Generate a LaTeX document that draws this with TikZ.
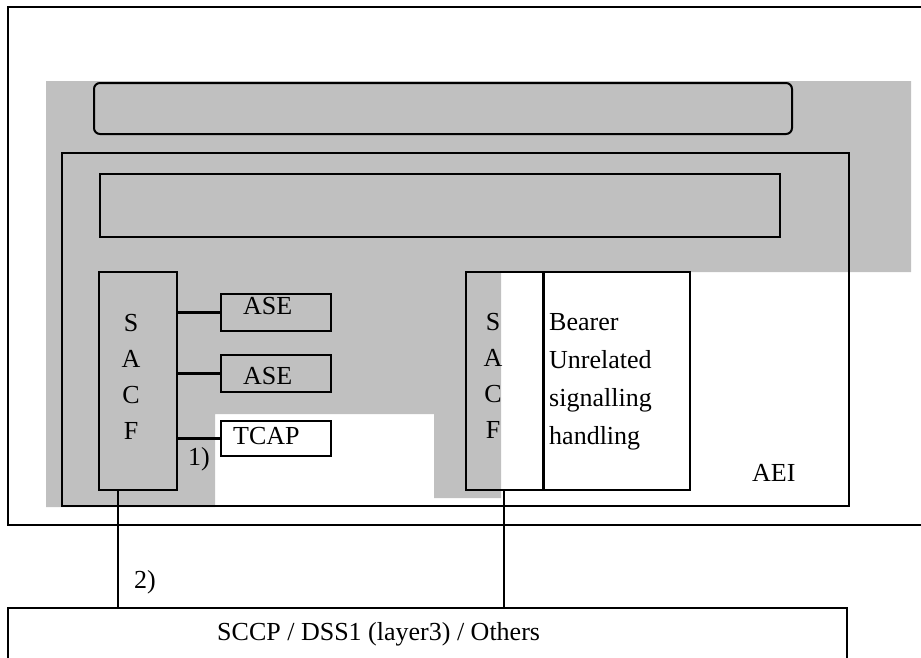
\documentclass[tikz,border=0pt]{standalone}
\usepackage{fontspec}
\setmainfont{Liberation Serif}
\definecolor{panelgrey}{RGB}{192,192,192}
\begin{document}
\begin{tikzpicture}[x=1pt,y=-1pt,
  box/.style={draw,line width=2pt,inner sep=0pt,outer sep=0pt,anchor=north west},
  smallbox/.style={box,line width=2.5pt},
  lbl/.style={inner sep=0pt,anchor=base west,font=\fontsize{26}{30}\selectfont},
  ltr/.style={inner sep=0pt,anchor=base,font=\fontsize{26}{30}\selectfont},
  link/.style={line width=3pt},
  wire/.style={line width=2pt}]
\useasboundingbox (0,0) rectangle (921,657);
\clip (0,0) rectangle (921,657);
% grey background area
\fill[panelgrey] (46,81) -- (911,81) -- (911,272) -- (501,272) -- (501,498) -- (434,498)
  -- (434,414) -- (215,414) -- (215,507) -- (46,507) -- cycle;
% outer frame
\node[box,minimum width=922pt,minimum height=518pt] (outer) at (8,7) {};
% rounded bar
\node[box,rounded corners=6pt,minimum width=698pt,minimum height=51pt] (bar) at (94,83) {};
% AEI box
\node[box,minimum width=787pt,minimum height=353pt] (aei) at (62,153) {};
\node[box,minimum width=680pt,minimum height=63pt] (inner) at (100,174) {};
% left SACF
\node[box,minimum width=78pt,minimum height=218pt] (sacfL) at (99,272) {};
\node[smallbox,minimum width=110pt,minimum height=37pt] (ase1) at (221,294) {};
\node[smallbox,minimum width=110pt,minimum height=37pt] (ase2) at (221,355) {};
\node[smallbox,minimum width=110pt,minimum height=35pt] (tcap) at (221,421) {};
% right SACF and bearer box
\node[box,minimum width=77pt,minimum height=218pt] (sacfR) at (466,272) {};
\node[box,minimum width=147pt,minimum height=218pt] (bearer) at (543,272) {};
\draw[line width=3pt] (bearer.north west) -- (bearer.south west);
% bottom box
\node[box,minimum width=839pt,minimum height=70pt] (bottom) at (8,608) {};
% texts
\node[lbl] (t1) at (243,314) {ASE};
\node[lbl] (t2) at (243,384) {ASE};
\node[lbl] (t3) at (233,444) {TCAP};
\node[lbl] (n1) at (188,465) {1)};
\node[lbl] (n2) at (134,588) {2)};
\node[lbl] (aeiT) at (752,481) {AEI};
\node[lbl] (sccp) at (217,640) {SCCP / DSS1 (layer3) / Others};
\node[ltr] (lS) at (131,331) {S};
\node[ltr] (lA) at (131,367) {A};
\node[ltr] (lC) at (131,403) {C};
\node[ltr] (lF) at (131,439) {F};
\node[ltr] (rS) at (493,330) {S};
\node[ltr] (rA) at (493,366) {A};
\node[ltr] (rC) at (493,402) {C};
\node[ltr] (rF) at (493,438) {F};
\node[lbl] (b1) at (549,330) {Bearer};
\node[lbl] (b2) at (549,368) {Unrelated};
\node[lbl] (b3) at (549,406) {signalling};
\node[lbl] (b4) at (549,444) {handling};
% connectors
\draw[link] (sacfL.east |- ase1) -- (ase1.west);
\draw[link] (sacfL.east |- ase2) -- (ase2.west);
\draw[link] (sacfL.east |- tcap) -- (tcap.west);
\coordinate (xl) at (118,0);
\coordinate (xr) at (504,0);
\draw[wire] (sacfL.south -| xl) -- (bottom.north -| xl);
\draw[wire] (sacfR.south -| xr) -- (bottom.north -| xr);
\end{tikzpicture}
\end{document}
